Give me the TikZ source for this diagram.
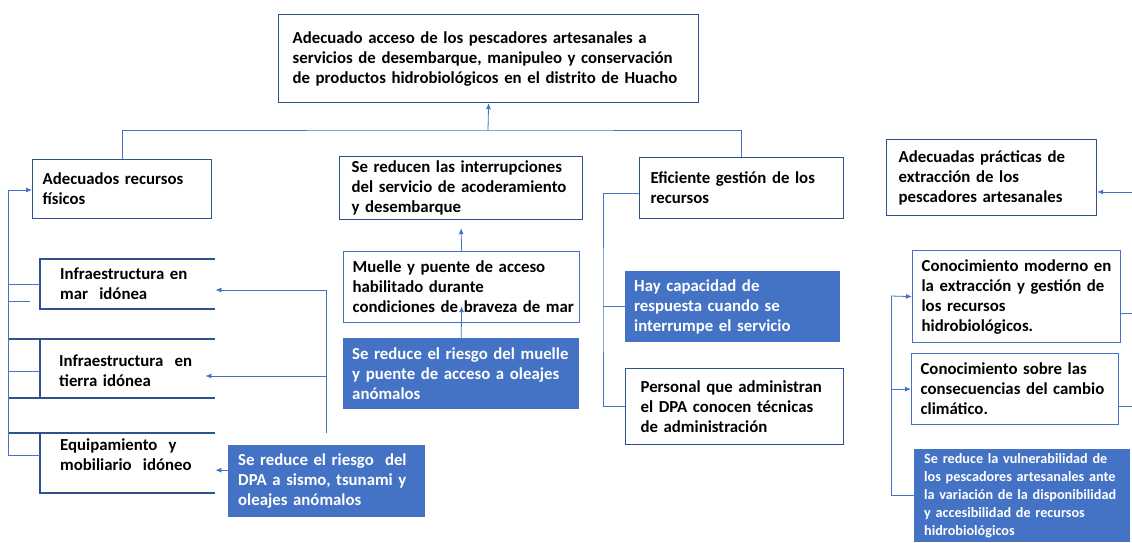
\documentclass[tikz,border=0pt]{standalone}
\usepackage{fontspec}
\setmainfont{Carlito}
\usepackage{tikz}
\usetikzlibrary{calc,arrows.meta}

\definecolor{bordeazul}{RGB}{47,82,143}
\definecolor{lineaazul}{RGB}{68,114,196}
\definecolor{rellenoazul}{RGB}{68,114,196}

\tikzset{
  letra/.style={font=\bfseries\fontsize{16.8}{20}\selectfont},
  caja/.style={draw=bordeazul,line width=1.2pt,anchor=north west,inner sep=0pt,align=left,letra},
  cajaazul/.style={fill=rellenoazul,text=white,anchor=north west,inner sep=0pt,align=left,letra},
  texto/.style={anchor=west,inner sep=0pt,align=left,minimum width=175pt,letra},
  borde/.style={draw=bordeazul,line width=1.4pt},
  linea/.style={draw=lineaazul,line width=0.8pt},
  flecha/.style={linea,-{Latex[length=6pt,width=5pt]}}
}

\begin{document}
\begin{tikzpicture}[x=1pt,y=-1pt]
    \useasboundingbox (0,0) rectangle (1132,542);

    % fin
    \node[caja,minimum width=420pt,minimum height=88pt,text width=392pt] (fin) at (278,14)
      {\makebox[392pt][s]{Adecuado acceso de los pescadores artesanales a}\\
       \makebox[392pt][s]{servicios de desembarque, manipuleo y conservación}\\
       de productos hidrobiológicos en el distrito de Huacho};

    % first level
    \node[caja,minimum width=179pt,minimum height=59pt,text width=159pt] (recursos) at (32,159)
      {Adecuados recursos\\físicos};
    \node[caja,minimum width=243pt,minimum height=63pt,text width=219pt] (reducen) at (339,156)
      {Se reducen las interrupciones\\del servicio de acoderamiento\\y desembarque};
    \node[caja,minimum width=204pt,minimum height=61pt,text width=182pt] (eficiente) at (639,157)
      {Eficiente gestión de los\\recursos};
    \node[caja,minimum width=210pt,minimum height=76pt,text width=186pt] (practicas) at (886,139)
      {Adecuadas prácticas de\\extracción de los\\pescadores artesanales};

    \coordinate (barra) at (488,130);
    \draw[linea] (recursos.north) |- (barra) -| (eficiente.north);
    \draw[flecha] (barra) -- (fin.south);

    % left column
    \node[texto,text width=135pt] (mar) at (40,284) {Infraestructura en\\mar~~idónea};
    \node[texto,text width=137pt] (tierra) at (40,371) {Infraestructura~~en\\tierra idónea};
    \node[texto,text width=135pt] (equipo) at (40,455) {Equipamiento~~y\\mobiliario~~idóneo};

    \draw[borde] (215,259) -- (40,259) -- (40,309) -- (215,309);
    \draw[borde] (8,339) -- (215,339) (8,398) -- (215,398) (40,339) -- (40,398);
    \draw[borde] (8,433) -- (215,433) (40,433) -- (40,493) -- (215,493);

    \coordinate (espina) at (8,190);
    \draw[flecha] (espina) -- (espina -| recursos.west);
    \draw[linea] (espina) -- (espina |- equipo.west) -- (equipo.west);
    \draw[linea] (espina |- mar.west) -- (mar.west);
    \draw[linea] (espina |- tierra.west) -- (tierra.west);
    \draw[linea] (8,301) -- (30,301);

    \coordinate (colector) at (326,290);
    \coordinate (colector2) at (326,376);
    \draw[linea] (colector) -- (326,433);
    \draw[flecha] (colector) -- (colector -| mar.east);
    \draw[flecha] (colector2) -- ([xshift=-10pt]colector2 -| tierra.east);

    \node[cajaazul,minimum width=197pt,minimum height=72pt,text width=177pt] (riesgodpa) at (228,445)
      {Se reduce el riesgo~~del\\DPA a sismo, tsunami y\\oleajes anómalos};
    \draw[flecha] ([yshift=11pt]riesgodpa.west) -- ([yshift=11pt]riesgodpa.west -| equipo.east);

    % middle column
    \node[caja,draw=lineaazul,minimum width=236pt,minimum height=71pt,text width=218pt] (muelle) at (343,251)
      {Muelle y puente de acceso\\habilitado durante\\\mbox{condiciones de braveza de mar}};
    \node[cajaazul,minimum width=236pt,minimum height=71pt,text width=218pt] (riesgomuelle) at (343,338)
      {Se reduce el riesgo del muelle\\y puente de acceso a oleajes\\anómalos};
    \draw[flecha] (muelle.north) -- ([yshift=-8pt]reducen.south);
    \draw[flecha] (riesgomuelle.north) -- ([yshift=17pt]muelle.south);

    % gestion
    \node[cajaazul,minimum width=215pt,minimum height=71pt,text width=197pt] (capacidad) at (625,271)
      {Hay capacidad de\\respuesta cuando se\\interrumpe el servicio};
    \node[caja,minimum width=218pt,minimum height=76pt,text width=188pt] (personal) at (625,368)
      {Personal que administran\\el DPA conocen técnicas\\de administración};

    \coordinate (gestion) at (603,300);
    \draw[linea] ([yshift=-5pt]eficiente.west) -| (gestion) |- (personal.west);
    \draw[linea] (gestion |- capacidad.west) -- (capacidad.west);

    % right column
    \node[caja,draw=lineaazul,minimum width=208pt,minimum height=92pt,text width=190pt] (moderno) at (912,250)
      {Conocimiento moderno en\\la extracción y gestión de\\los recursos\\hidrobiológicos.};
    \node[caja,draw=lineaazul,minimum width=207pt,minimum height=71pt,text width=189pt] (sobre) at (911,353)
      {Conocimiento sobre las\\consecuencias del cambio\\climático.};
    \node[cajaazul,minimum width=216pt,minimum height=93pt,text width=196pt,
      font=\bfseries\fontsize{14.2}{18}\selectfont] (vulnera) at (914,449)
      {Se reduce la vulnerabilidad de\\los pescadores artesanales ante\\la variación de la disponibilidad\\y accesibilidad de recursos\\hidrobiológicos};

    \coordinate (borde1) at (1132,192);
    \coordinate (borde2) at (1132,313);
    \coordinate (borde3) at (1132,406);
    \draw[flecha] (borde1) -- (borde1 -| practicas.east);
    \draw[linea] (borde2 -| moderno.east) -- (borde2);
    \draw[linea] (borde3 -| sobre.east) -- (borde3);

    \coordinate (espina2) at (891,296);
    \draw[flecha] (espina2) -- (moderno.west);
    \draw[linea] (espina2) |- (vulnera.west);
    \draw[flecha] (espina2 |- sobre.west) -- (sobre.west);
\end{tikzpicture}
\end{document}
